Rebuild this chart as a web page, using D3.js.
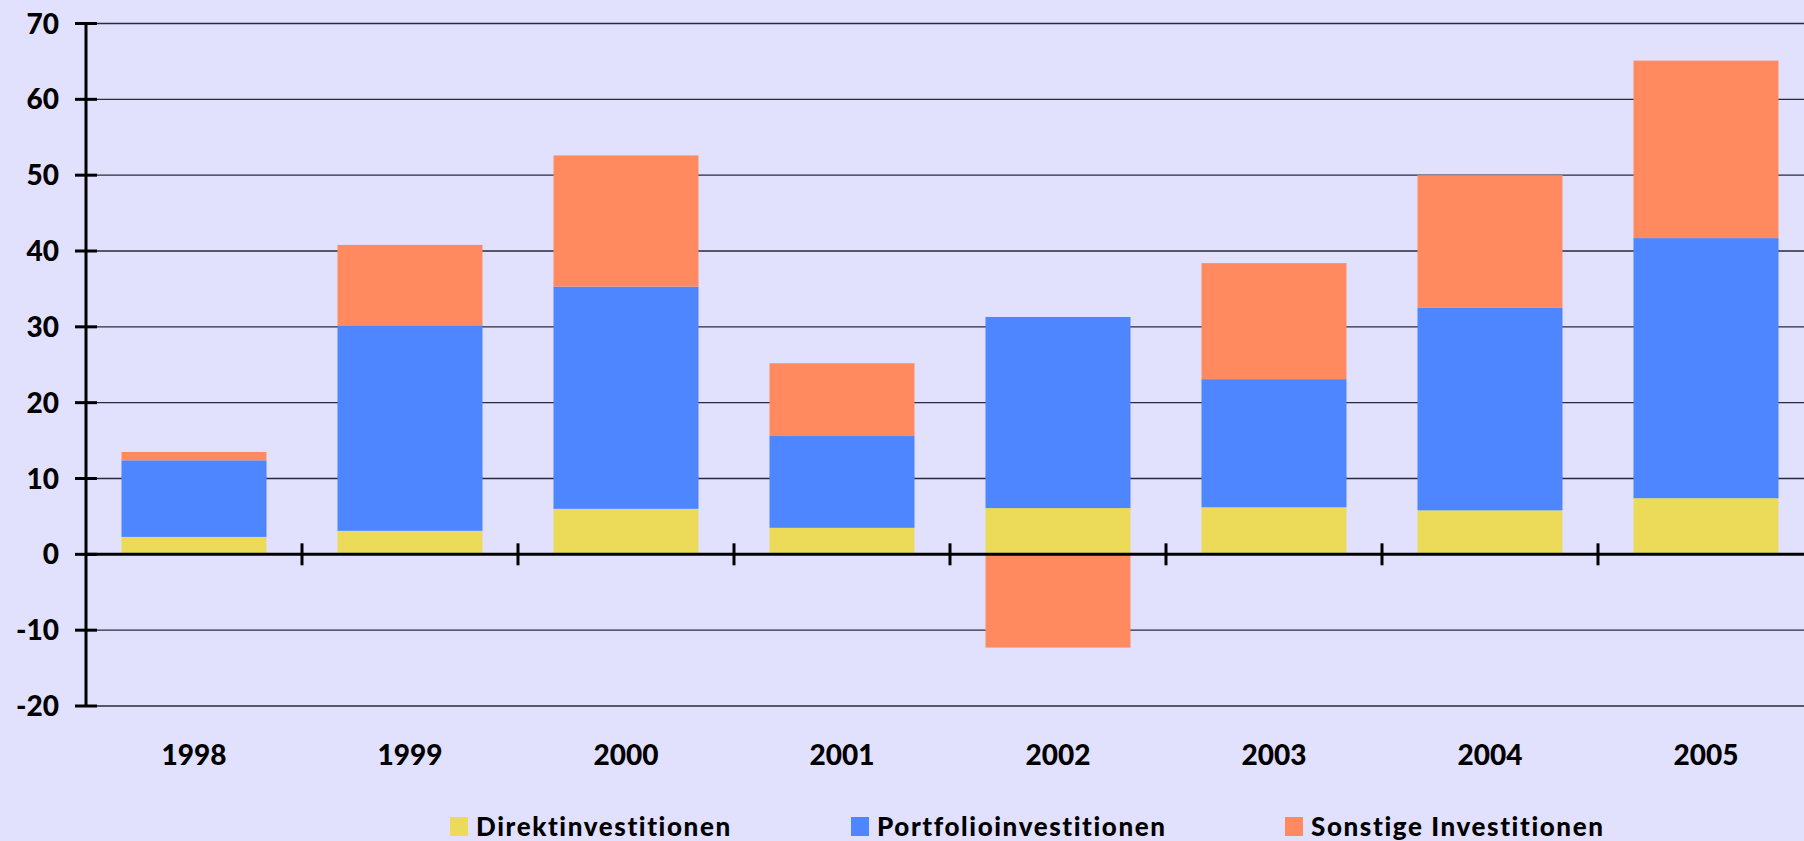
<!DOCTYPE html>
<html>
<head>
<meta charset="utf-8">
<script src="https://cdn.jsdelivr.net/npm/d3@7"></script>
<style>
  html, body { margin: 0; padding: 0; background: #E1E1FE; overflow: hidden; }
  svg { display: block; }
  text { font-family: Lato, "Open Sans", sans-serif; font-weight: 900; fill: #000; }
</style>
</head>
<body>
<svg id="chart" width="1804" height="841"></svg>
<script>
const years = ["1998", "1999", "2000", "2001", "2002", "2003", "2004", "2005"];
const direkt = [2.3, 3.1, 6.0, 3.5, 6.1, 6.2, 5.8, 7.4];
const portfolio = [10.1, 27.1, 29.3, 12.1, 25.2, 16.9, 26.7, 34.3];
const sonstige = [1.1, 10.6, 17.3, 9.6, -12.3, 15.3, 17.5, 23.4];
const seriesNames = ["Direktinvestitionen", "Portfolioinvestitionen", "Sonstige Investitionen"];
const seriesColors = ["#ECDB58", "#4D86FF", "#FF8A5F"];
const yTicks = [-20, -10, 0, 10, 20, 30, 40, 50, 60, 70];

const rows = years.map((yr, i) => ({year: yr, d: direkt[i], p: portfolio[i], s: sonstige[i]}));
const keys = ["d", "p", "s"];

const svg = d3.select("#chart");
const mLeft = 86, mRight = 1814, mTop = 23.5, mBottom = 706;

const x = d3.scaleBand().domain(years).range([mLeft, mRight]).paddingInner(0).paddingOuter(0);
const barW = x.bandwidth() * 145 / 216;
const y = d3.scaleLinear().domain([-20, 70]).range([mBottom, mTop]);

// gridlines
svg.append("g").selectAll("line").data(yTicks.filter(v => v !== 0)).join("line")
  .attr("x1", mLeft).attr("x2", 1804)
  .attr("y1", d => y(d)).attr("y2", d => y(d))
  .attr("stroke", "#2a2a3a").attr("stroke-width", 1.4);

// stacked bars
const stack = d3.stack().keys(keys).offset(d3.stackOffsetDiverging);
const stacked = stack(rows);
svg.append("g").selectAll("g").data(stacked).join("g")
  .attr("fill", (d, i) => seriesColors[i])
  .selectAll("rect").data(d => d).join("rect")
  .attr("x", d => x(d.data.year) + (x.bandwidth() - barW) / 2)
  .attr("width", barW)
  .attr("y", d => y(Math.max(d[0], d[1])))
  .attr("height", d => Math.abs(y(d[0]) - y(d[1])));

// y axis
svg.append("line").attr("x1", mLeft).attr("x2", mLeft).attr("y1", mTop).attr("y2", mBottom)
  .attr("stroke", "#000").attr("stroke-width", 3);
svg.append("g").selectAll("line").data(yTicks).join("line")
  .attr("x1", 75).attr("x2", 97).attr("y1", d => y(d)).attr("y2", d => y(d))
  .attr("stroke", "#000").attr("stroke-width", 3);
svg.append("g").selectAll("text").data(yTicks).join("text")
  .attr("x", 59).attr("y", d => y(d)).attr("dy", "0.36em")
  .attr("text-anchor", "end").attr("font-size", 28)
  .text(d => d);

// zero line and category ticks
svg.append("line").attr("x1", mLeft).attr("x2", 1804).attr("y1", y(0)).attr("y2", y(0))
  .attr("stroke", "#000").attr("stroke-width", 3);
svg.append("g").selectAll("line").data(years.slice(1)).join("line")
  .attr("x1", d => x(d)).attr("x2", d => x(d))
  .attr("y1", y(0) - 11).attr("y2", y(0) + 11)
  .attr("stroke", "#000").attr("stroke-width", 3);

// year labels
svg.append("g").selectAll("text").data(years).join("text")
  .attr("x", d => x(d) + x.bandwidth() / 2).attr("y", 765)
  .attr("text-anchor", "middle").attr("font-size", 28)
  .text(d => d);

// legend
const legX = [450, 851, 1285];
const leg = svg.append("g").selectAll("g").data(seriesNames).join("g")
  .attr("transform", (d, i) => `translate(${legX[i]},0)`);
leg.append("rect").attr("x", 0).attr("y", 817).attr("width", 18).attr("height", 19)
  .attr("fill", (d, i) => seriesColors[i]);
leg.append("text").attr("x", 26).attr("y", 836).attr("font-size", 26)
  .attr("letter-spacing", 1.6).text(d => d);
</script>
</body>
</html>
